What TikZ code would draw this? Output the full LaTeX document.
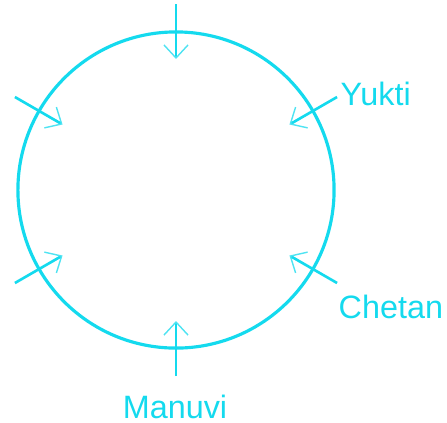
\documentclass[tikz,border=0pt]{standalone}
\usepackage{fontspec}
\setmainfont{Liberation Sans}
\usetikzlibrary{arrows.meta,calc}
\definecolor{ringcyan}{RGB}{20,218,238}

\begin{document}
\begin{tikzpicture}[
  x=0.01cm,y=-0.01cm,
  font=\fontsize{9.2}{11}\selectfont,
  ring/.style={draw=ringcyan,line width=0.9pt,circle,minimum size=3.16cm,inner sep=0pt},
  push/.style={draw=ringcyan,line width=0.75pt,
               -{Straight Barb[length=1.3mm,width=2.4mm,line width=0.4pt,color=ringcyan!75]}},
  seat/.style={text=ringcyan,inner sep=0pt}]
\useasboundingbox (0,0) rectangle (447,423);

% ---- nodes ------------------------------------------------------------
\coordinate (c) at (176,190);
\node[ring] (table) at (c) {};
\node[seat,anchor=base west] (yukti)  at (340,105) {Yukti};
\node[seat,anchor=base west] (chetan) at (338,318) {Chetan};
\node[seat,anchor=base]      (manuvi) at (175,418) {Manuvi};

% ---- arrows -----------------------------------------------------------
\foreach \a in {90,150,210,270,330,30} {
  \coordinate (o\a) at ($(c)+(\a:186)$);
  \coordinate (i\a) at ($(c)+(\a:131)$);
  \draw[push] (o\a) -- (i\a);
}
\end{tikzpicture}
\end{document}
